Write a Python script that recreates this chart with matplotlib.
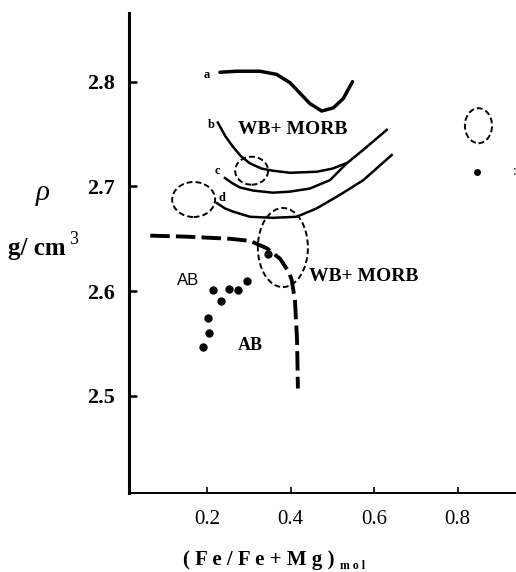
import matplotlib
matplotlib.use("Agg")
import matplotlib.pyplot as plt
from matplotlib.patches import Ellipse

plt.rcParams["font.family"] = ["Liberation Serif", "DejaVu Serif"]

# curve a (top, solid)
a_x = [0.230, 0.270, 0.326, 0.366, 0.398, 0.422, 0.446, 0.474, 0.502, 0.526, 0.548]
a_y = [2.809, 2.810, 2.810, 2.807, 2.799, 2.789, 2.779, 2.772, 2.775, 2.784, 2.800]

# curve b
b_x = [0.225, 0.243, 0.261, 0.280, 0.302, 0.330, 0.357, 0.398, 0.462, 0.500, 0.532]
b_y = [2.761, 2.748, 2.738, 2.729, 2.722, 2.717, 2.715, 2.713, 2.714, 2.717, 2.722]

# curve c
c_x = [0.242, 0.260, 0.278, 0.310, 0.357, 0.398, 0.446, 0.494, 0.534, 0.574, 0.630]
c_y = [2.708, 2.703, 2.699, 2.696, 2.694, 2.695, 2.698, 2.706, 2.722, 2.735, 2.754]

# curve d
d_x = [0.223, 0.242, 0.261, 0.302, 0.357, 0.414, 0.462, 0.518, 0.574, 0.642]
d_y = [2.684, 2.679, 2.676, 2.671, 2.670, 2.671, 2.679, 2.692, 2.706, 2.730]

# thick dashed boundary
bound_x = [0.063, 0.150, 0.254, 0.302, 0.342, 0.374, 0.394, 0.402, 0.410, 0.415, 0.417]
bound_y = [2.653, 2.652, 2.650, 2.648, 2.641, 2.631, 2.619, 2.611, 2.591, 2.553, 2.507]

# sample points
pt_x = [0.295, 0.273, 0.251, 0.213, 0.232, 0.201, 0.203, 0.189, 0.345, 0.847]
pt_y = [2.610, 2.601, 2.602, 2.601, 2.591, 2.574, 2.560, 2.547, 2.635, 2.714]

# dashed fields: centre x, centre y, width, height
ell_cx = [0.306, 0.167, 0.381, 0.850]
ell_cy = [2.715, 2.6875, 2.6416, 2.758]
ell_w = [0.079, 0.103, 0.120, 0.065]
ell_h = [0.0267, 0.0334, 0.0755, 0.0334]

curve_labels = ["a", "b", "c", "d"]
curve_lab_x = [0.199, 0.209, 0.224, 0.236]
curve_lab_y = [2.806, 2.759, 2.715, 2.689]

x_ticks = [0.2, 0.4, 0.6, 0.8]
y_ticks = [2.5, 2.6, 2.7, 2.8]

fig = plt.figure(figsize=(5.16, 5.72), dpi=100)
ax = fig.add_axes([129 / 516, 1 - 493 / 572, (516 - 129) / 516, (493 - 13) / 572])

ax.plot(a_x, a_y, color="black", lw=2.5, solid_capstyle="round", solid_joinstyle="round")
for cx_, cy_ in [(b_x, b_y), (c_x, c_y), (d_x, d_y)]:
    ax.plot(cx_, cy_, color="black", lw=1.8, solid_joinstyle="round")
ax.plot(bound_x, bound_y, color="black", lw=2.8, dashes=(5.0, 1.6))

for cx, cy, w, h in zip(ell_cx, ell_cy, ell_w, ell_h):
    ax.add_patch(Ellipse((cx, cy), w, h, fill=False, ec="black", lw=1.4,
                         linestyle=(0, (3, 1.6))))

ax.plot(pt_x[:-1], pt_y[:-1], "o", color="black", ms=5)
ax.plot(pt_x[-1:], pt_y[-1:], "o", color="black", ms=4)

for lab, lx, ly in zip(curve_labels, curve_lab_x, curve_lab_y):
    ax.text(lx, ly, lab, fontsize=9, fontweight="bold", ha="center", va="center")

ax.text(0.405, 2.754, "WB+ MORB", fontsize=14, fontweight="bold", ha="center", va="center")
ax.text(0.574, 2.6135, "WB+ MORB", fontsize=14, fontweight="bold", ha="center", va="center")
ax.text(0.153, 2.6106, "AB", fontsize=12, family="Liberation Sans", ha="center", va="center")
ax.text(0.302, 2.5485, "AB", fontsize=13, fontweight="bold", ha="center", va="center")
ax.text(0.936, 2.714, ":", fontsize=10, ha="center", va="center", clip_on=False)

ax.set_xlim(0.012, 0.940)
ax.set_ylim(2.4072, 2.8656)
ax.set_xticks(x_ticks)
ax.set_xticklabels([f"{v:.1f}" for v in x_ticks], fontsize=15)
ax.set_yticks(y_ticks)
ax.set_yticklabels([f"{v:.1f}" for v in y_ticks], fontsize=16, fontweight="bold")

for s in ["top", "right"]:
    ax.spines[s].set_visible(False)
ax.spines["left"].set_linewidth(2.2)
ax.spines["bottom"].set_linewidth(1.4)
ax.tick_params(axis="y", direction="in", length=6, width=1.8, pad=10)
ax.tick_params(axis="x", direction="in", length=4, width=1.2, pad=12)

# axis titles
fig.text(43 / 516, 1 - 193 / 572, "ρ", fontsize=21, style="italic", ha="center", va="center")
fig.text(8 / 516, 1 - 249 / 572, "g/ cm", fontsize=18, fontweight="bold", ha="left", va="center")
fig.text(69 / 516, 1 - 240 / 572, "3", fontsize=13, ha="left", va="center")
fig.text(183 / 516, 1 - 560 / 572, "( F e / F e + M g )", fontsize=15, fontweight="bold",
         ha="left", va="center")
fig.text(340 / 516, 1 - 566 / 572, "m o l", fontsize=8.5, fontweight="bold", ha="left", va="center")

fig.savefig("out.png", dpi=100)
